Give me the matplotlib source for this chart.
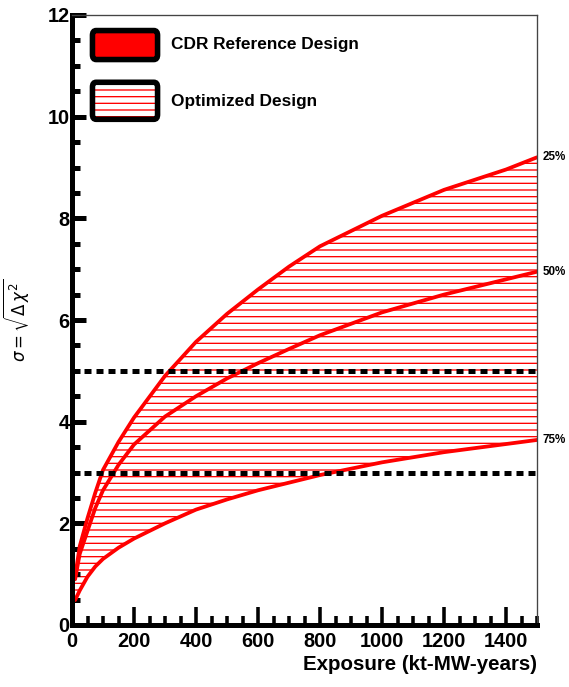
import matplotlib
matplotlib.use("Agg")
import matplotlib.pyplot as plt
from matplotlib.patches import FancyBboxPatch
from matplotlib.ticker import MultipleLocator

# exposure in kt-MW-years
exposure = [10, 25, 50, 75, 100, 150, 200, 300, 400, 500, 600, 700, 800, 1000, 1200, 1400, 1500]
# sensitivity for 25%, 50%, 75% of delta-CP values
sig_25 = [0.95, 1.55, 2.1, 2.6, 3.05, 3.6, 4.08, 4.9, 5.57, 6.12, 6.6, 7.05, 7.45, 8.05, 8.56, 8.96, 9.2]
sig_50 = [0.9, 1.4, 1.85, 2.3, 2.65, 3.15, 3.55, 4.1, 4.5, 4.85, 5.15, 5.43, 5.7, 6.15, 6.5, 6.8, 6.95]
sig_75 = [0.49, 0.68, 0.95, 1.15, 1.3, 1.52, 1.7, 2.0, 2.27, 2.47, 2.65, 2.8, 2.95, 3.2, 3.4, 3.56, 3.64]
frac_labels = ["25%", "50%", "75%"]
ref_levels = [5, 3]

plt.rcParams['font.family'] = ['Liberation Sans', 'DejaVu Sans']
plt.rcParams['hatch.linewidth'] = 1.2

dpi = 80
fig = plt.figure(figsize=(569 / dpi, 687 / dpi), dpi=dpi)
ax = fig.add_axes([72 / 569, 1 - 625 / 687, 465 / 569, 610 / 687])

# hatched band between the 25% and 75% curves
ax.fill_between(exposure, sig_75, sig_25, facecolor='none', edgecolor='red',
                hatch='--', linewidth=0)
for s in (sig_25, sig_50, sig_75):
    ax.plot(exposure, s, color='red', lw=3.4, solid_capstyle='round',
            solid_joinstyle='round')

for lv in ref_levels:
    ax.axhline(lv, color='black', lw=4.5, dashes=(1.4, 1.0), dash_capstyle='butt')

for lab, s in zip(frac_labels, (sig_25, sig_50, sig_75)):
    ax.text(1.012, s[-1], lab, transform=ax.get_yaxis_transform(),
            fontsize=10.5, fontweight='bold', va='center', ha='left', clip_on=False)

ax.set_xlim(0, 1500)
ax.set_ylim(0, 12)
ax.xaxis.set_major_locator(MultipleLocator(200))
ax.xaxis.set_minor_locator(MultipleLocator(50))
ax.yaxis.set_major_locator(MultipleLocator(2))
ax.yaxis.set_minor_locator(MultipleLocator(0.5))

for side in ('left', 'bottom'):
    ax.spines[side].set_linewidth(4.5)
    ax.spines[side].set_color('black')
for side in ('top', 'right'):
    ax.spines[side].set_linewidth(1.2)
    ax.spines[side].set_color('#444444')

ax.tick_params(axis='y', which='major', direction='in', length=13, width=4.5,
               labelsize=18, pad=2)
ax.tick_params(axis='y', which='minor', direction='in', length=7, width=4.5)
ax.tick_params(axis='x', which='major', direction='in', length=16, width=3.2,
               labelsize=18, pad=6)
ax.tick_params(axis='x', which='minor', direction='in', length=8, width=3.2)
for t in ax.get_xticklabels() + ax.get_yticklabels():
    t.set_fontweight('bold')

ax.set_xlabel('Exposure (kt-MW-years)', fontsize=18.5, fontweight='bold', loc='right')
ax.xaxis.set_label_coords(1.0, -0.05)
ax.set_ylabel(r'$\sigma = \sqrt{\Delta\,\chi^{2}}$', fontsize=15)
ax.yaxis.set_label_coords(-0.085, 0.5)

# legend boxes
rs = 'round,pad=0,rounding_size=0.008'
box1 = FancyBboxPatch((0.044, 0.927), 0.14, 0.0475, boxstyle=rs,
                      transform=ax.transAxes, facecolor='red', edgecolor='black',
                      lw=5, clip_on=False, zorder=5)
ax.add_patch(box1)
box2h = FancyBboxPatch((0.044, 0.829), 0.14, 0.0607, boxstyle=rs,
                       transform=ax.transAxes, facecolor='white', edgecolor='red',
                       hatch='--', lw=0, clip_on=False, zorder=5)
ax.add_patch(box2h)
box2 = FancyBboxPatch((0.044, 0.829), 0.14, 0.0607, boxstyle=rs,
                      transform=ax.transAxes, facecolor='none', edgecolor='black',
                      lw=5, clip_on=False, zorder=6)
ax.add_patch(box2)
ax.text(0.212, 0.951, 'CDR Reference Design', transform=ax.transAxes,
        fontsize=15.5, fontweight='bold', va='center', ha='left')
ax.text(0.212, 0.859, 'Optimized Design', transform=ax.transAxes,
        fontsize=15.5, fontweight='bold', va='center', ha='left')

fig.savefig('out.png', dpi=dpi)
